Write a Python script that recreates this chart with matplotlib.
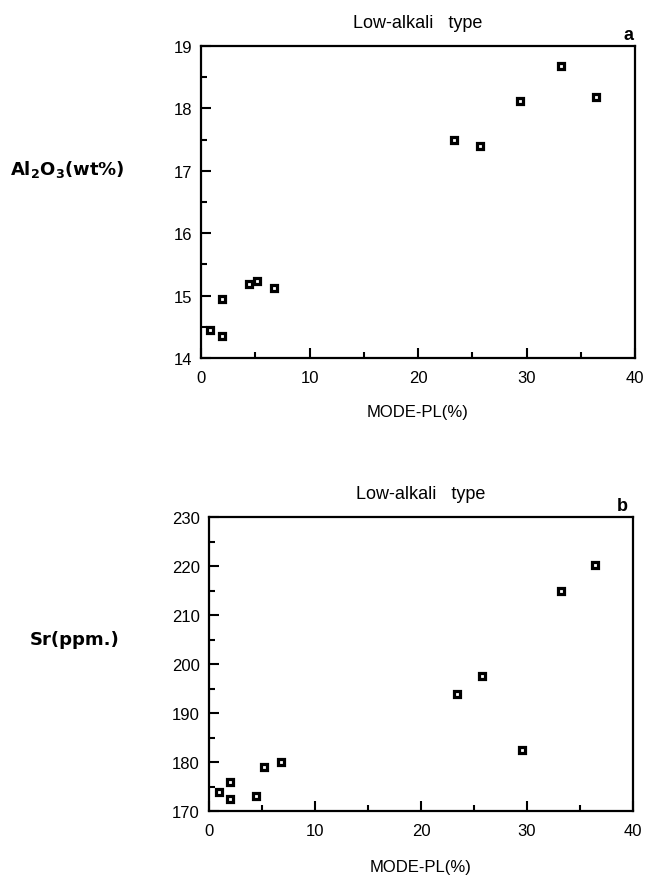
import matplotlib
matplotlib.use("Agg")
import matplotlib.pyplot as plt
from matplotlib.ticker import MultipleLocator

plt.rcParams['font.family'] = ['Liberation Sans', 'DejaVu Sans']
plt.rcParams['mathtext.fontset'] = 'custom'
plt.rcParams['mathtext.rm'] = 'DejaVu Sans:bold'
plt.rcParams['mathtext.bf'] = 'DejaVu Sans:bold'

# Panel a: Al2O3 vs MODE-PL
mode_pl_a = [0.85, 1.95, 1.95, 4.4, 5.15, 6.7, 23.3, 25.75, 29.4, 33.15, 36.45]
al2o3 = [14.45, 14.36, 14.94, 15.18, 15.23, 15.12, 17.49, 17.39, 18.12, 18.68, 18.18]

# Panel b: Sr vs MODE-PL
mode_pl_b = [0.9, 2.0, 2.0, 4.4, 5.15, 6.75, 23.4, 25.75, 29.5, 33.2, 36.45]
sr = [173.9, 176.0, 172.5, 173.1, 179.0, 179.9, 193.9, 197.6, 182.5, 214.8, 220.3]

title_text = "Low-alkali   type"
xlabel_text = "MODE-PL(%)"

W, H = 645, 879
fig = plt.figure(figsize=(W / 100, H / 100), dpi=100)

def box(l, t, r, b):
    return [l / W, 1 - b / H, (r - l) / W, (b - t) / H]

ax1 = fig.add_axes(box(201, 47, 635, 359))
ax2 = fig.add_axes(box(209, 518, 633, 812))

def style(ax, xmaj, xmin, ymaj, ymin):
    ax.xaxis.set_major_locator(MultipleLocator(xmaj))
    ax.xaxis.set_minor_locator(MultipleLocator(xmin))
    ax.yaxis.set_major_locator(MultipleLocator(ymaj))
    ax.yaxis.set_minor_locator(MultipleLocator(ymin))
    ax.tick_params(which='both', direction='in', top=False, right=False,
                   labelsize=12, width=1.5, colors='black')
    ax.tick_params(which='major', length=7)
    ax.tick_params(which='minor', length=4)
    ax.tick_params(axis='x', which='major', pad=9)
    ax.tick_params(axis='y', which='major', pad=6.5)
    for s in ax.spines.values():
        s.set_linewidth(1.6)

def panel(ax, x, y, ylim, ymaj, ymin, letter, letter_x, xlabel_y):
    ax.plot(x, y, linestyle='none', marker='s', markersize=3.7,
            markerfacecolor='white', markeredgecolor='black',
            markeredgewidth=2.3, zorder=3, clip_on=False)
    ax.set_xlim(0, 40)
    ax.set_ylim(*ylim)
    style(ax, 10, 5, ymaj, ymin)
    ax.set_title(title_text, fontsize=13, pad=14)
    ax.set_xlabel(xlabel_text, fontsize=12)
    ax.xaxis.set_label_coords(0.5, xlabel_y)
    ax.xaxis.label.set_va('center')
    ax.text(letter_x, 1.01, letter, transform=ax.transAxes, fontsize=13,
            fontweight='bold', ha='center', va='bottom')

panel(ax1, mode_pl_a, al2o3, (14, 19), 1, 0.5, 'a', 0.985,
      -(413 - 359) / (359 - 47))
panel(ax2, mode_pl_b, sr, (170, 230), 10, 5, 'b', 0.975,
      -(868 - 812) / (812 - 518))

fig.text(67 / W, 1 - 170 / H, r'Al$_{\mathbf{2}}$O$_{\mathbf{3}}$(wt%)',
         fontsize=13, fontweight='bold', family='DejaVu Sans',
         ha='center', va='center')
fig.text(75 / W, 1 - 640 / H, 'Sr(ppm.)', fontsize=13, fontweight='bold',
         family='DejaVu Sans', ha='center', va='center')

fig.savefig('out.png', dpi=100, facecolor='white')
